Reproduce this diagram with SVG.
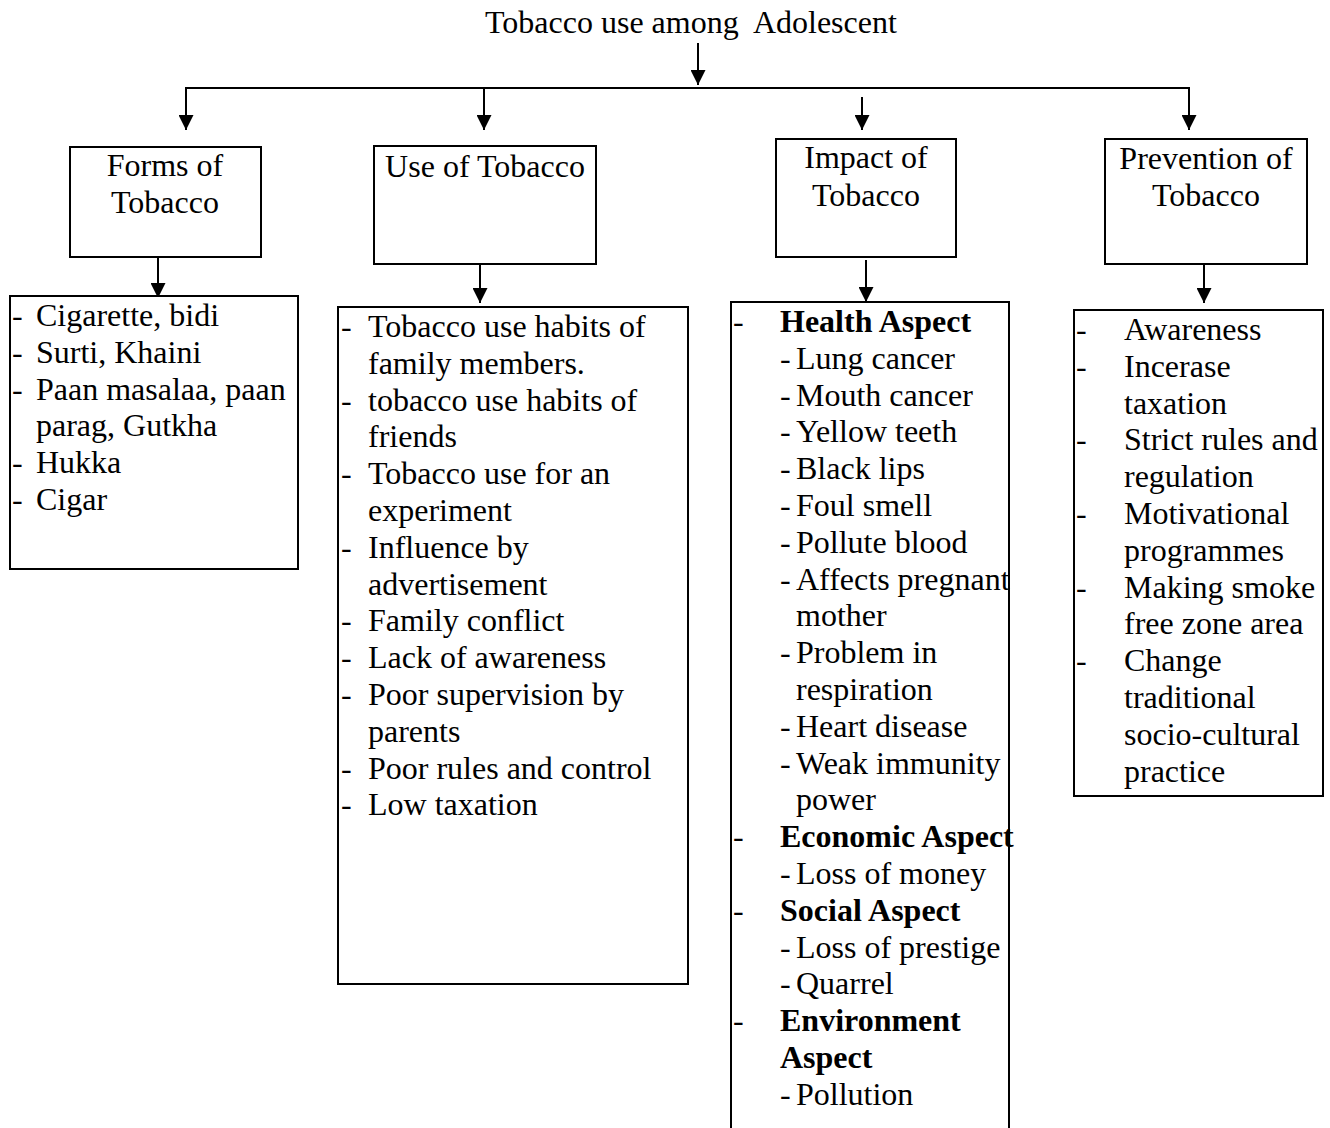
<svg xmlns="http://www.w3.org/2000/svg" width="1330" height="1128" viewBox="0 0 1330 1128">
<defs>
<style>
text{font-family:"Liberation Serif","Times New Roman",serif;font-size:32px;fill:#000}
.b{font-weight:bold}
.c{text-anchor:middle}
rect{fill:#fff;stroke:#000;stroke-width:2}
.ln{fill:none;stroke:#000;stroke-width:2}
</style>
<marker id="ah" viewBox="0 0 15 15" refX="15" refY="7.5" markerWidth="15" markerHeight="15" markerUnits="userSpaceOnUse" orient="auto">
<path d="M0,0 L15,7.5 L0,15 z" fill="#000"/>
</marker>
</defs>
<rect x="0" y="0" width="1330" height="1128" style="stroke:none"/>
<g id="title">
<text x="485" y="33" xml:space="preserve">Tobacco use among  Adolescent</text>
</g>
<g id="connectors">
<line class="ln" x1="698" y1="43" x2="698" y2="85" marker-end="url(#ah)"/>
<polyline class="ln" points="1189,88 186,88 186,130" marker-end="url(#ah)"/>
<line class="ln" x1="1189" y1="87" x2="1189" y2="130" marker-end="url(#ah)"/>
<line class="ln" x1="484" y1="88" x2="484" y2="130" marker-end="url(#ah)"/>
<line class="ln" x1="862" y1="97" x2="862" y2="130" marker-end="url(#ah)"/>
<line class="ln" x1="158" y1="257" x2="158" y2="298" marker-end="url(#ah)"/>
<line class="ln" x1="480" y1="260" x2="480" y2="303" marker-end="url(#ah)"/>
<line class="ln" x1="866" y1="260" x2="866" y2="302" marker-end="url(#ah)"/>
<line class="ln" x1="1204" y1="260" x2="1204" y2="303" marker-end="url(#ah)"/>
</g>
<g id="forms">
<rect x="70" y="147" width="191" height="110"/>
<text class="c" x="165" y="176">Forms of</text>
<text class="c" x="165" y="213">Tobacco</text>
</g>
<g id="use">
<rect x="374" y="146" width="222" height="118"/>
<text class="c" x="485" y="177">Use of Tobacco</text>
</g>
<g id="impact">
<rect x="776" y="139" width="180" height="118"/>
<text class="c" x="866" y="168">Impact of</text>
<text class="c" x="866" y="206">Tobacco</text>
</g>
<g id="prevention">
<rect x="1105" y="139" width="202" height="125"/>
<text class="c" x="1206" y="169">Prevention of</text>
<text class="c" x="1206" y="206">Tobacco</text>
</g>
<g id="forms-list">
<rect x="10" y="296" width="288" height="273"/>
<text x="12" y="326">-</text><text x="36" y="326">Cigarette, bidi</text>
<text x="12" y="362.8">-</text><text x="36" y="362.8">Surti, Khaini</text>
<text x="12" y="399.6">-</text><text x="36" y="399.6">Paan masalaa, paan</text>
<text x="36" y="436.4">parag, Gutkha</text>
<text x="12" y="473.2">-</text><text x="36" y="473.2">Hukka</text>
<text x="12" y="510">-</text><text x="36" y="510">Cigar</text>
</g>
<g id="use-list">
<rect x="338" y="307" width="350" height="677"/>
<text x="341" y="337">-</text><text x="368" y="337">Tobacco use habits of</text>
<text x="368" y="373.8">family members.</text>
<text x="341" y="410.6">-</text><text x="368" y="410.6">tobacco use habits of</text>
<text x="368" y="447.4">friends</text>
<text x="341" y="484.2">-</text><text x="368" y="484.2">Tobacco use for an</text>
<text x="368" y="521">experiment</text>
<text x="341" y="557.8">-</text><text x="368" y="557.8">Influence by</text>
<text x="368" y="594.6">advertisement</text>
<text x="341" y="631.4">-</text><text x="368" y="631.4">Family conflict</text>
<text x="341" y="668.2">-</text><text x="368" y="668.2">Lack of awareness</text>
<text x="341" y="705">-</text><text x="368" y="705">Poor supervision by</text>
<text x="368" y="741.8">parents</text>
<text x="341" y="778.6">-</text><text x="368" y="778.6">Poor rules and control</text>
<text x="341" y="815.4">-</text><text x="368" y="815.4">Low taxation</text>
</g>
<g id="impact-list">
<rect x="731" y="302" width="278" height="850"/>
<text x="733" y="332">-</text><text class="b" x="780" y="332">Health Aspect</text>
<text x="780" y="368.8">-</text><text x="796" y="368.8">Lung cancer</text>
<text x="780" y="405.6">-</text><text x="796" y="405.6">Mouth cancer</text>
<text x="780" y="442.4">-</text><text x="796" y="442.4">Yellow teeth</text>
<text x="780" y="479.2">-</text><text x="796" y="479.2">Black lips</text>
<text x="780" y="516">-</text><text x="796" y="516">Foul smell</text>
<text x="780" y="552.8">-</text><text x="796" y="552.8">Pollute blood</text>
<text x="780" y="589.6">-</text><text x="796" y="589.6">Affects pregnant</text>
<text x="796" y="626.4">mother</text>
<text x="780" y="663.2">-</text><text x="796" y="663.2">Problem in</text>
<text x="796" y="700">respiration</text>
<text x="780" y="736.8">-</text><text x="796" y="736.8">Heart disease</text>
<text x="780" y="773.6">-</text><text x="796" y="773.6">Weak immunity</text>
<text x="796" y="810.4">power</text>
<text x="733" y="847.2">-</text><text class="b" x="780" y="847.2">Economic Aspect</text>
<text x="780" y="884">-</text><text x="796" y="884">Loss of money</text>
<text x="733" y="920.8">-</text><text class="b" x="780" y="920.8">Social Aspect</text>
<text x="780" y="957.6">-</text><text x="796" y="957.6">Loss of prestige</text>
<text x="780" y="994.4">-</text><text x="796" y="994.4">Quarrel</text>
<text x="733" y="1031.2">-</text><text class="b" x="780" y="1031.2">Environment</text>
<text class="b" x="780" y="1068">Aspect</text>
<text x="780" y="1104.8">-</text><text x="796" y="1104.8">Pollution</text>
</g>
<g id="prevention-list">
<rect x="1074" y="310" width="249" height="486"/>
<text x="1076" y="340">-</text><text x="1124" y="340">Awareness</text>
<text x="1076" y="376.8">-</text><text x="1124" y="376.8">Incerase</text>
<text x="1124" y="413.6">taxation</text>
<text x="1076" y="450.4">-</text><text x="1124" y="450.4">Strict rules and</text>
<text x="1124" y="487.2">regulation</text>
<text x="1076" y="524">-</text><text x="1124" y="524">Motivational</text>
<text x="1124" y="560.8">programmes</text>
<text x="1076" y="597.6">-</text><text x="1124" y="597.6">Making smoke</text>
<text x="1124" y="634.4">free zone area</text>
<text x="1076" y="671.2">-</text><text x="1124" y="671.2">Change</text>
<text x="1124" y="708">traditional</text>
<text x="1124" y="744.8">socio-cultural</text>
<text x="1124" y="781.6">practice</text>
</g>
</svg>
